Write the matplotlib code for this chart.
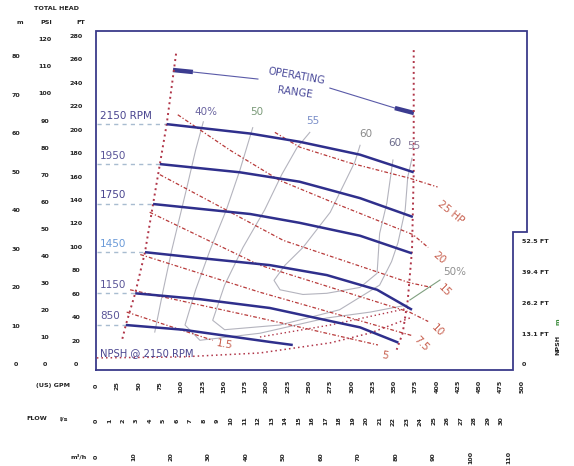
import matplotlib
matplotlib.use("Agg")
import matplotlib.pyplot as plt
from matplotlib.transforms import blended_transform_factory as btf

plt.rcParams['font.family'] = ['DejaVu Sans']

# ---------------- data (flow: US GPM, head: FT) ----------------
rpm_labels = ["2150 RPM", "1950", "1750", "1450", "1150", "850"]
flow_2150 = [83, 181, 239, 310, 373]
head_2150 = [205, 197, 190, 179, 164]
flow_1950 = [75, 169, 239, 310, 372]
head_1950 = [171, 164, 156, 142, 126]
flow_1750 = [67, 181, 239, 310, 371]
head_1750 = [137, 128.5, 121, 110, 95]
flow_1450 = [57.5, 122, 204, 271, 330, 371]
head_1450 = [96, 91, 85, 76.5, 64, 47]
flow_1150 = [46, 122, 204, 271, 310, 355]
head_1150 = [61, 56, 48.5, 38, 32, 19]
flow_850 = [35, 102, 204, 231]
head_850 = [34, 30, 19.6, 17]
rpm_label_color = ['#4b4690', '#5a5598', '#4b4690', '#6a9ad8', '#5a5598', '#5a5598']

# operating range boundaries
min_flow = [94, 83, 75, 67, 57.5, 46, 35, 30.5]
min_head = [265, 205, 171, 137, 96, 61, 34, 21]
max_flow = [373, 373, 371, 366, 360, 353]
max_head = [268, 164, 98, 55, 27, 13]

# horsepower lines
hp_labels = ["25 HP", "20", "15", "10", "7.5", "5", "1.5"]
hp_flow = [
    [210, 239, 298, 368, 401],
    [96, 157, 216, 286, 372, 390],
    [75, 220, 368, 394],
    [63, 192, 368, 390],
    [52, 192, 371],
    [40, 192, 331],
    [36, 137],
]
hp_head = [
    [198, 185.5, 172, 159, 151.5],
    [213, 183, 157, 136, 111, 100],
    [162, 106, 70, 66],
    [130, 85, 45, 37],
    [94, 62, 25],
    [64, 40, 17],
    [45, 21],
]
hp_label_pos_flow = [416, 403, 409, 401, 382, 339, 151]
hp_label_pos_head = [130, 91, 63, 29, 18, 8, 17]
hp_label_rot = [-39, -40, -45, -45, -45, -10, -10]

# efficiency contours
eff_labels = ["40%", "50", "55", "60", "60", "55", "50%"]
eff_label_flow = [129, 189, 254, 317, 351, 373, 421]
eff_label_head = [215, 215, 208, 197, 189, 186, 79]
eff_label_color = ['#6a64a0', '#7a9a78', '#7a8ec8', '#8a8a8a', '#6a6a8a', '#8a7a9a', '#909090']
eff40_flow = [126, 117, 106, 89, 79, 69]
eff40_head = [207, 183, 149, 98, 64, 28]
eff50_flow = [184, 169, 153, 134, 117, 104.5, 122, 192.5, 271, 322, 365]
eff50_head = [202, 166, 132, 98, 64, 34, 21, 27, 40, 45, 51]
eff55_flow = [251, 236, 218, 198, 172.5, 151, 137, 151, 216, 286, 333, 347, 354.5, 363, 366, 371]
eff55_head = [198, 185, 162, 132, 100, 68, 38, 30, 34, 47, 68, 88, 104, 132, 160, 176]
eff60_flow = [310, 304, 275, 243, 222, 209, 216, 243, 271, 310, 330, 333, 341.5, 348.6]
eff60_head = [187, 173, 130, 100, 85, 72, 64, 60, 61, 66, 78, 112, 138, 174.5]

# NPSH required @ 2150 RPM (NPSH ft)
npsh_flow = [1, 99, 192.5, 275, 322, 368.5]
npsh_ft = [3, 3.4, 5.1, 9.4, 13.6, 20]
npsh2_flow = [192.5, 275, 368.5]
npsh2_ft = [11.9, 17, 24.3]

# axis tick values
ft_ticks = list(range(0, 281, 20))
psi_ticks = list(range(0, 121, 10))
m_ticks = list(range(0, 81, 10))
npsh_ticks = [13.1, 26.2, 39.4, 52.5]
gpm_ticks = list(range(0, 501, 25))
ls_ticks = list(range(0, 31))
m3h_ticks = list(range(0, 111, 10))

# ---------------- figure ----------------
W, H = 574, 466
fig = plt.figure(figsize=(W / 100, H / 100), dpi=100)
ax = fig.add_axes([96 / W, 1 - 370 / H, 431 / W, 339 / H])
ax.set_xlim(0, 506)
ax.set_ylim(-4.3, 284.3)
ax.axis('off')

frame_c = '#3a3a8a'
xn, yn = (513 - 96) / 431, (370 - 232) / 339
ax.plot([0, 0, 1, 1, xn, xn, 0], [0, 1, 1, yn, yn, 0, 0], transform=ax.transAxes,
        color=frame_c, lw=1.3, clip_on=False, solid_joinstyle='miter')

# efficiency contours
eff_c = '#b4b4be'
for fx, hy in [(eff40_flow, eff40_head), (eff50_flow, eff50_head),
               (eff55_flow, eff55_head), (eff60_flow, eff60_head)]:
    ax.plot(fx, hy, color=eff_c, lw=0.8, zorder=1)
for lab, fx, hy, c in zip(eff_labels, eff_label_flow, eff_label_head, eff_label_color):
    ax.text(fx, hy, lab, color=c, fontsize=7.5, ha='center', va='center', zorder=5)
ax.plot([368.5, 403.8], [55.3, 72.3], color='#80a080', lw=0.8, zorder=2)

# HP lines
hp_c = '#b83a3a'
for fx, hy in zip(hp_flow, hp_head):
    ax.plot(fx, hy, color=hp_c, lw=0.9, ls=(0, (3, 1.6, 1, 1.6)), zorder=2)
for lab, fx, hy, r in zip(hp_labels, hp_label_pos_flow, hp_label_pos_head, hp_label_rot):
    ax.text(fx, hy, lab, color='#c8604f', fontsize=7.5, rotation=r,
            ha='center', va='center', zorder=5)

# operating range boundaries
ax.plot(min_flow, min_head, color='#b03548', lw=1.4, ls=(0, (1, 1.8)), zorder=3)
ax.plot(max_flow, max_head, color='#b03548', lw=1.4, ls=(0, (1, 1.8)), zorder=3)

# NPSH curves (plotted on NPSH scale = 2 x head units)
ax.plot(npsh_flow, [v * 2 for v in npsh_ft], color='#b03548', lw=1.1, ls=(0, (1, 2)), zorder=3)
ax.plot(npsh2_flow, [v * 2 for v in npsh2_ft], color='#b03548', lw=1.0, ls=(0, (1, 2)), zorder=3)

# RPM curves
curve_c = '#2f2f8c'
rpm_flows = [flow_2150, flow_1950, flow_1750, flow_1450, flow_1150, flow_850]
rpm_heads = [head_2150, head_1950, head_1750, head_1450, head_1150, head_850]
for lab, fx, hy, lc in zip(rpm_labels, rpm_flows, rpm_heads, rpm_label_color):
    ax.plot(fx, hy, color=curve_c, lw=1.8, solid_capstyle='butt',
            solid_joinstyle='round', zorder=4)
    ax.plot([1, fx[0]], [hy[0], hy[0]], color='#a8bcd0', lw=1.0, ls=(0, (3, 3)), zorder=2)
    ax.text(5, hy[0] + 3, lab, color=lc, fontsize=7.5, ha='left', va='bottom', zorder=5)

ax.text(5, 10, "NPSH @ 2150 RPM", color='#4b4690', fontsize=7.2, ha='left', va='center', zorder=5)

# operating range annotation
op_c = '#3c3c90'
ax.plot([90.4, 113.8], [251.1, 249.4], color=op_c, lw=3.2, solid_capstyle='butt')
ax.plot([113.8, 190.1], [249.4, 243.4], color='#5a5aa8', lw=0.8)
ax.plot([274.6, 350.9], [235.7, 218.7], color='#5a5aa8', lw=0.8)
ax.plot([350.9, 373.2], [218.7, 214.5], color=op_c, lw=3.2, solid_capstyle='butt')
ax.text(235, 246, "OPERATING", color='#4a4a9a', fontsize=7.3, rotation=-10, ha='center', va='center')
ax.text(234, 232, "RANGE", color='#4a4a9a', fontsize=7.3, rotation=-8, ha='center', va='center')

# ---------------- left head scales ----------------
tk = dict(fontsize=4.6, fontweight='bold', color='#222222', ha='center', va='center')
tr = btf(fig.transFigure, ax.transData)
for v in ft_ticks:
    fig.text(76 / W, v, str(v), transform=tr, **tk)
for v in psi_ticks:
    fig.text(45 / W, v * 2.307, str(v), transform=tr, **tk)
for v in m_ticks:
    fig.text(16 / W, v * 3.281, str(v), transform=tr, **tk)
fig.text(57 / W, 1 - 9 / H, "TOTAL HEAD", **tk)
fig.text(20 / W, 1 - 23 / H, "m", **tk)
fig.text(46 / W, 1 - 23 / H, "PSI", **tk)
fig.text(81 / W, 1 - 23 / H, "FT", **tk)

# right NPSH scale
tk_l = dict(tk, ha='left')
for v in npsh_ticks:
    fig.text(522 / W, v * 2, f"{v} FT", transform=tr, **tk_l)
fig.text(522 / W, 0, "0", transform=tr, **tk_l)
fig.text(558 / W, 1 - 345 / H, "NPSH", rotation=90, **tk)
fig.text(558 / W, 1 - 322 / H, "m", rotation=90, **dict(tk, color='#3a8a3a'))

# ---------------- bottom flow scales ----------------
tb = btf(ax.transData, fig.transFigure)
tkr = dict(tk, rotation=90)
for v in gpm_ticks:
    fig.text(v, 1 - 386 / H, str(v), transform=tb, **tkr)
for v in ls_ticks:
    fig.text(v * 15.85, 1 - 421 / H, str(v), transform=tb, **tkr)
for v in m3h_ticks:
    fig.text(v * 4.403, 1 - 457 / H, str(v), transform=tb, **tkr)
fig.text(70 / W, 1 - 386 / H, "(US) GPM", **dict(tk, ha='right'))
fig.text(37 / W, 1 - 419 / H, "FLOW", **tk)
fig.text(64 / W, 1 - 419 / H, "l/s", **tk)
fig.text(87 / W, 1 - 457 / H, "m³/h", **dict(tk, ha='right'))

fig.savefig("out.png", dpi=100, facecolor='white')
